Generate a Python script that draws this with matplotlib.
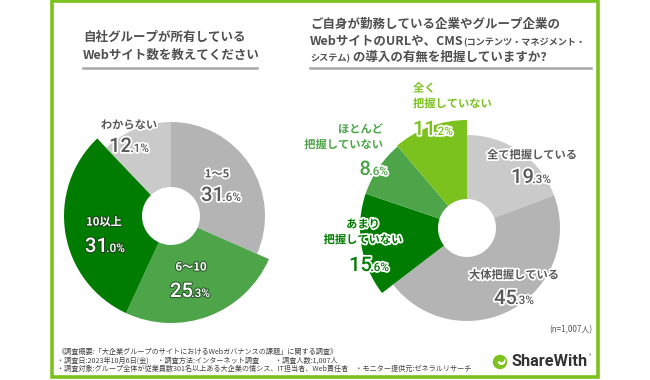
import matplotlib
matplotlib.use('Agg')
import matplotlib.pyplot as plt
from matplotlib import patheffects as pe
from matplotlib.patches import Rectangle, Circle, Wedge

plt.rcParams['font.family'] = ['Noto Sans CJK JP', 'DejaVu Sans']

# ---------------- data ----------------
left_title = ["自社グループが所有している", "Webサイト数を教えてください"]
left_labels = ["1〜5", "6〜10", "10以上", "わからない"]
left_values = [31.6, 25.3, 31.0, 12.1]

right_labels = ["全て把握している", "大体把握している", "あまり\n把握していない",
                "ほとんど\n把握していない", "全く\n把握していない"]
right_values = [19.3, 45.3, 15.6, 8.6, 11.2]

footer_lines = [
    "《調査概要:「大企業グループのサイトにおけるWebガバナンスの課題」に関する調査》",
    "・調査日:2023年10月6日(金)　 ・調査方法:インターネット調査　　 ・調査人数:1,007人",
    "・調査対象:グループ全体が従業員数301名以上ある大企業の情シス、IT担当者、Web責任者　・モニター提供元:ゼネラルリサーチ",
]
n_note = "(n=1,007人)"

# ---------------- styles ----------------
left_colors = ['#b4b4b4', '#4da449', '#007c00', '#cacaca']
left_radii = [94, 107, 107, 94]
right_colors = ['#cacaca', '#b4b4b4', '#007c00', '#4da449', '#7cc21e']
right_radii = [93, 93, 107, 107, 108]
HOLE = 29
W, H = 650, 380
WT = 'bold'

fig = plt.figure(figsize=(6.5, 3.8), dpi=100)
ax = fig.add_axes([0, 0, 1, 1])


def Y(y):
    return H - y


def donut(values, colors, radii, center):
    wedges, _ = ax.pie(values, colors=colors, startangle=90, counterclock=False,
                       center=center, radius=1, frame=True,
                       wedgeprops=dict(linewidth=0))
    for w, r in zip(wedges, radii):
        w.set_radius(r)
        w.set_width(r - HOLE)
    return wedges


donut(left_values, left_colors, left_radii, (171, Y(216)))
donut(right_values, right_colors, right_radii, (467, Y(228)))

ax.set_xlim(0, W)
ax.set_ylim(0, H)
ax.set_aspect('auto')
ax.axis('off')

# frame
ax.add_patch(Rectangle((52, Y(377)), 546, 376, fill=False, edgecolor='#7cc21e',
                       linewidth=2.6, zorder=0))

renderer = fig.canvas.get_renderer()

TITLE_C = '#505050'
# left title
ax.text(83, Y(37), left_title[0], fontsize=9.0, color=TITLE_C, weight=WT, va='center', ha='left')
ax.text(83, Y(55), left_title[1], fontsize=9.0, color=TITLE_C, weight=WT, va='center', ha='left')
ax.plot([83, 257], [Y(68), Y(68)], color='#a8a8a8', lw=1.8)


def seq_text(x, y, parts):
    """parts: list of (text, fontsize)"""
    for s, fs in parts:
        t = ax.text(x, y, s, fontsize=fs, color=TITLE_C, weight=WT, va='baseline', ha='left')
        bb = t.get_window_extent(renderer)
        x += bb.width


seq_text(310, Y(28), [("ご自身が勤務している企業やグループ企業の", 9.0)])
seq_text(310, Y(45), [("WebサイトのURLや、CMS", 9.0), ("(コンテンツ・マネジメント・", 6.6)])
seq_text(310, Y(61), [("システム)", 6.6), (" の導入の有無を把握していますか?", 9.0)])
ax.plot([310, 591], [Y(68), Y(68)], color='#a8a8a8', lw=1.8)


def label(x, y, s, color, stroke, fs=8.1, ha='center', sw=2.5):
    ax.text(x, Y(y), s, fontsize=fs, color=color, ha=ha, va='center', weight=WT,
            linespacing=1.25,
            path_effects=[pe.withStroke(linewidth=sw, foreground=stroke)])


def pct(x, y, value, color, stroke, ha='center', sw=2.5):
    s = f"{value:.1f}"
    ip, dp = s.split('.')
    fam = ['Roboto', 'DejaVu Sans']
    big = ax.text(0, 0, ip, fontsize=14.5, color=color, weight='medium', va='baseline', ha='left',
                  family=fam, path_effects=[pe.withStroke(linewidth=sw, foreground=stroke)])
    small = ax.text(0, 0, '.' + dp + '%', fontsize=8.5, color=color, weight='medium', va='baseline',
                    ha='left', family=fam,
                    path_effects=[pe.withStroke(linewidth=sw, foreground=stroke)])
    wb = big.get_window_extent(renderer).width
    ws = small.get_window_extent(renderer).width
    tot = wb + ws - 1.5
    if ha == 'center':
        x0 = x - tot / 2
    elif ha == 'right':
        x0 = x - tot
    else:
        x0 = x
    base = Y(y) - 7
    big.set_position((x0, base))
    small.set_position((x0 + wb - 1.5, base))


GRAY_T = '#5a5a5a'
# left labels
label(217, 174, left_labels[0], GRAY_T, 'white')
pct(221, 194, left_values[0], GRAY_T, 'white')
label(191, 267, left_labels[1], 'white', '#2f5f2f', sw=1.6)
pct(190, 290, left_values[1], 'white', '#2f5f2f', sw=1.6)
label(104, 222, left_labels[2], 'white', '#1c4a1c', sw=1.6)
pct(105, 245, left_values[2], 'white', '#1c4a1c', sw=1.6)
label(129, 125, left_labels[3], GRAY_T, 'white')
pct(129, 145, left_values[3], GRAY_T, 'white')

# right labels
label(532, 155, right_labels[0], GRAY_T, 'white')
pct(531, 176, right_values[0], GRAY_T, 'white')
label(514, 275, right_labels[1], GRAY_T, 'white')
pct(514, 297, right_values[1], GRAY_T, 'white')
label(363, 232, right_labels[2], '#007c00', 'white')
pct(369, 264, right_values[2], '#007c00', 'white')
label(383, 137, right_labels[3], '#4da449', 'white', ha='right')
pct(388, 168, right_values[3], '#4da449', 'white', ha='right')
label(413, 96, right_labels[4], '#7cc21e', 'white', ha='left')
pct(413, 128, right_values[4], '#7cc21e', 'white', ha='left')

# n note
ax.text(592, Y(330), n_note, fontsize=5.8, color='#555555', ha='right', va='center')

# footer
for i, line in enumerate(footer_lines):
    ax.text(57, Y(352 + 8.2 * i), line, fontsize=5.15, color='#444444', ha='left', va='center')

# logo
ax.add_patch(Circle((500, Y(362)), 6.5, color='#7cc21e', zorder=3))
ax.add_patch(Wedge((501.5, Y(361)), 3.3, 200, 20, color='white', zorder=4))
ax.add_patch(Circle((501.5, Y(359.5)), 2.0, color='#7cc21e', zorder=5))
ax.text(511, Y(362), "ShareWith", fontsize=11.8, weight='bold', color='#333333',
        ha='left', va='center', family=['Roboto', 'DejaVu Sans'])
ax.text(589, Y(357), "®", fontsize=3.5, color='#333333', ha='left', va='center')

fig.savefig('out.png', dpi=100)
